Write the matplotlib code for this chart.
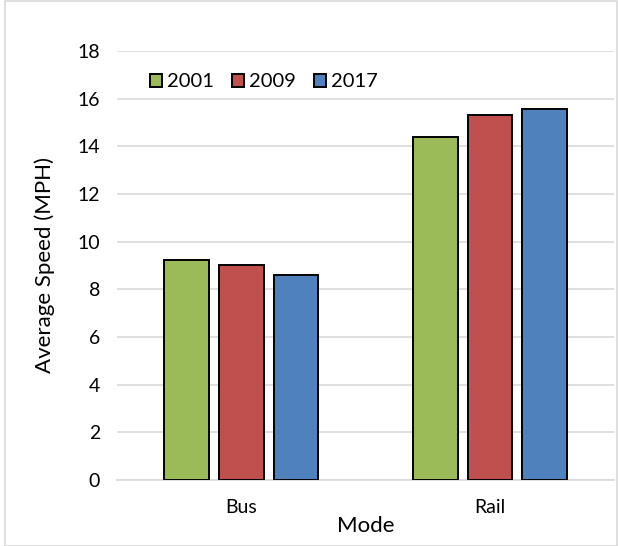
import numpy as np
import matplotlib.pyplot as plt
from matplotlib.patches import Rectangle

plt.rcParams['font.family'] = ['Lato', 'DejaVu Sans']

modes = ["Bus", "Rail"]
years = ["2001", "2009", "2017"]
speed_2001 = [9.24, 14.38]
speed_2009 = [9.02, 15.32]
speed_2017 = [8.60, 15.57]
colors = ["#9BBB59", "#C0504D", "#4F81BD"]

fig = plt.figure(figsize=(6.18, 5.46), dpi=100)
ax = fig.add_axes([0.189, 0.121, 0.805, 0.7856])

x = np.arange(len(modes))
w = 0.18
step = 0.22
for i, (vals, c, lab) in enumerate(zip([speed_2001, speed_2009, speed_2017], colors, years)):
    ax.bar(x + (i - 1) * step, vals, width=w, color=c, edgecolor="black",
           linewidth=1.4, label=lab, zorder=3)

ax.set_xlim(-0.5, 1.5)
ax.set_ylim(0, 18)
ax.set_yticks(range(0, 19, 2))
ax.set_xticks(x)
ax.set_xticklabels(modes)
ax.tick_params(axis="both", length=0, labelsize=14, colors="#000000")
ax.tick_params(axis="x", pad=14)
ax.tick_params(axis="y", pad=12)
ax.grid(axis="y", color="#D9D9D9", linewidth=1.2, zorder=0)
for s in ["top", "right", "left"]:
    ax.spines[s].set_visible(False)
ax.spines["bottom"].set_color("#D9D9D9")
ax.spines["bottom"].set_linewidth(1.2)

ax.set_ylabel("Average Speed (MPH)", fontsize=16, labelpad=16)
ax.set_xlabel("Mode", fontsize=16, labelpad=0)

ax.legend(loc="upper left", bbox_to_anchor=(0.03, 0.99), ncol=3, frameon=False,
          fontsize=14.5, handlelength=0.6, handleheight=0.6, handletextpad=0.25,
          columnspacing=0.9)

fig.patches.append(Rectangle((0.008, 0.0), 0.99, 0.998, transform=fig.transFigure,
                             fill=False, edgecolor="#D9D9D9", linewidth=1.2))

plt.savefig("out.png", dpi=100)
